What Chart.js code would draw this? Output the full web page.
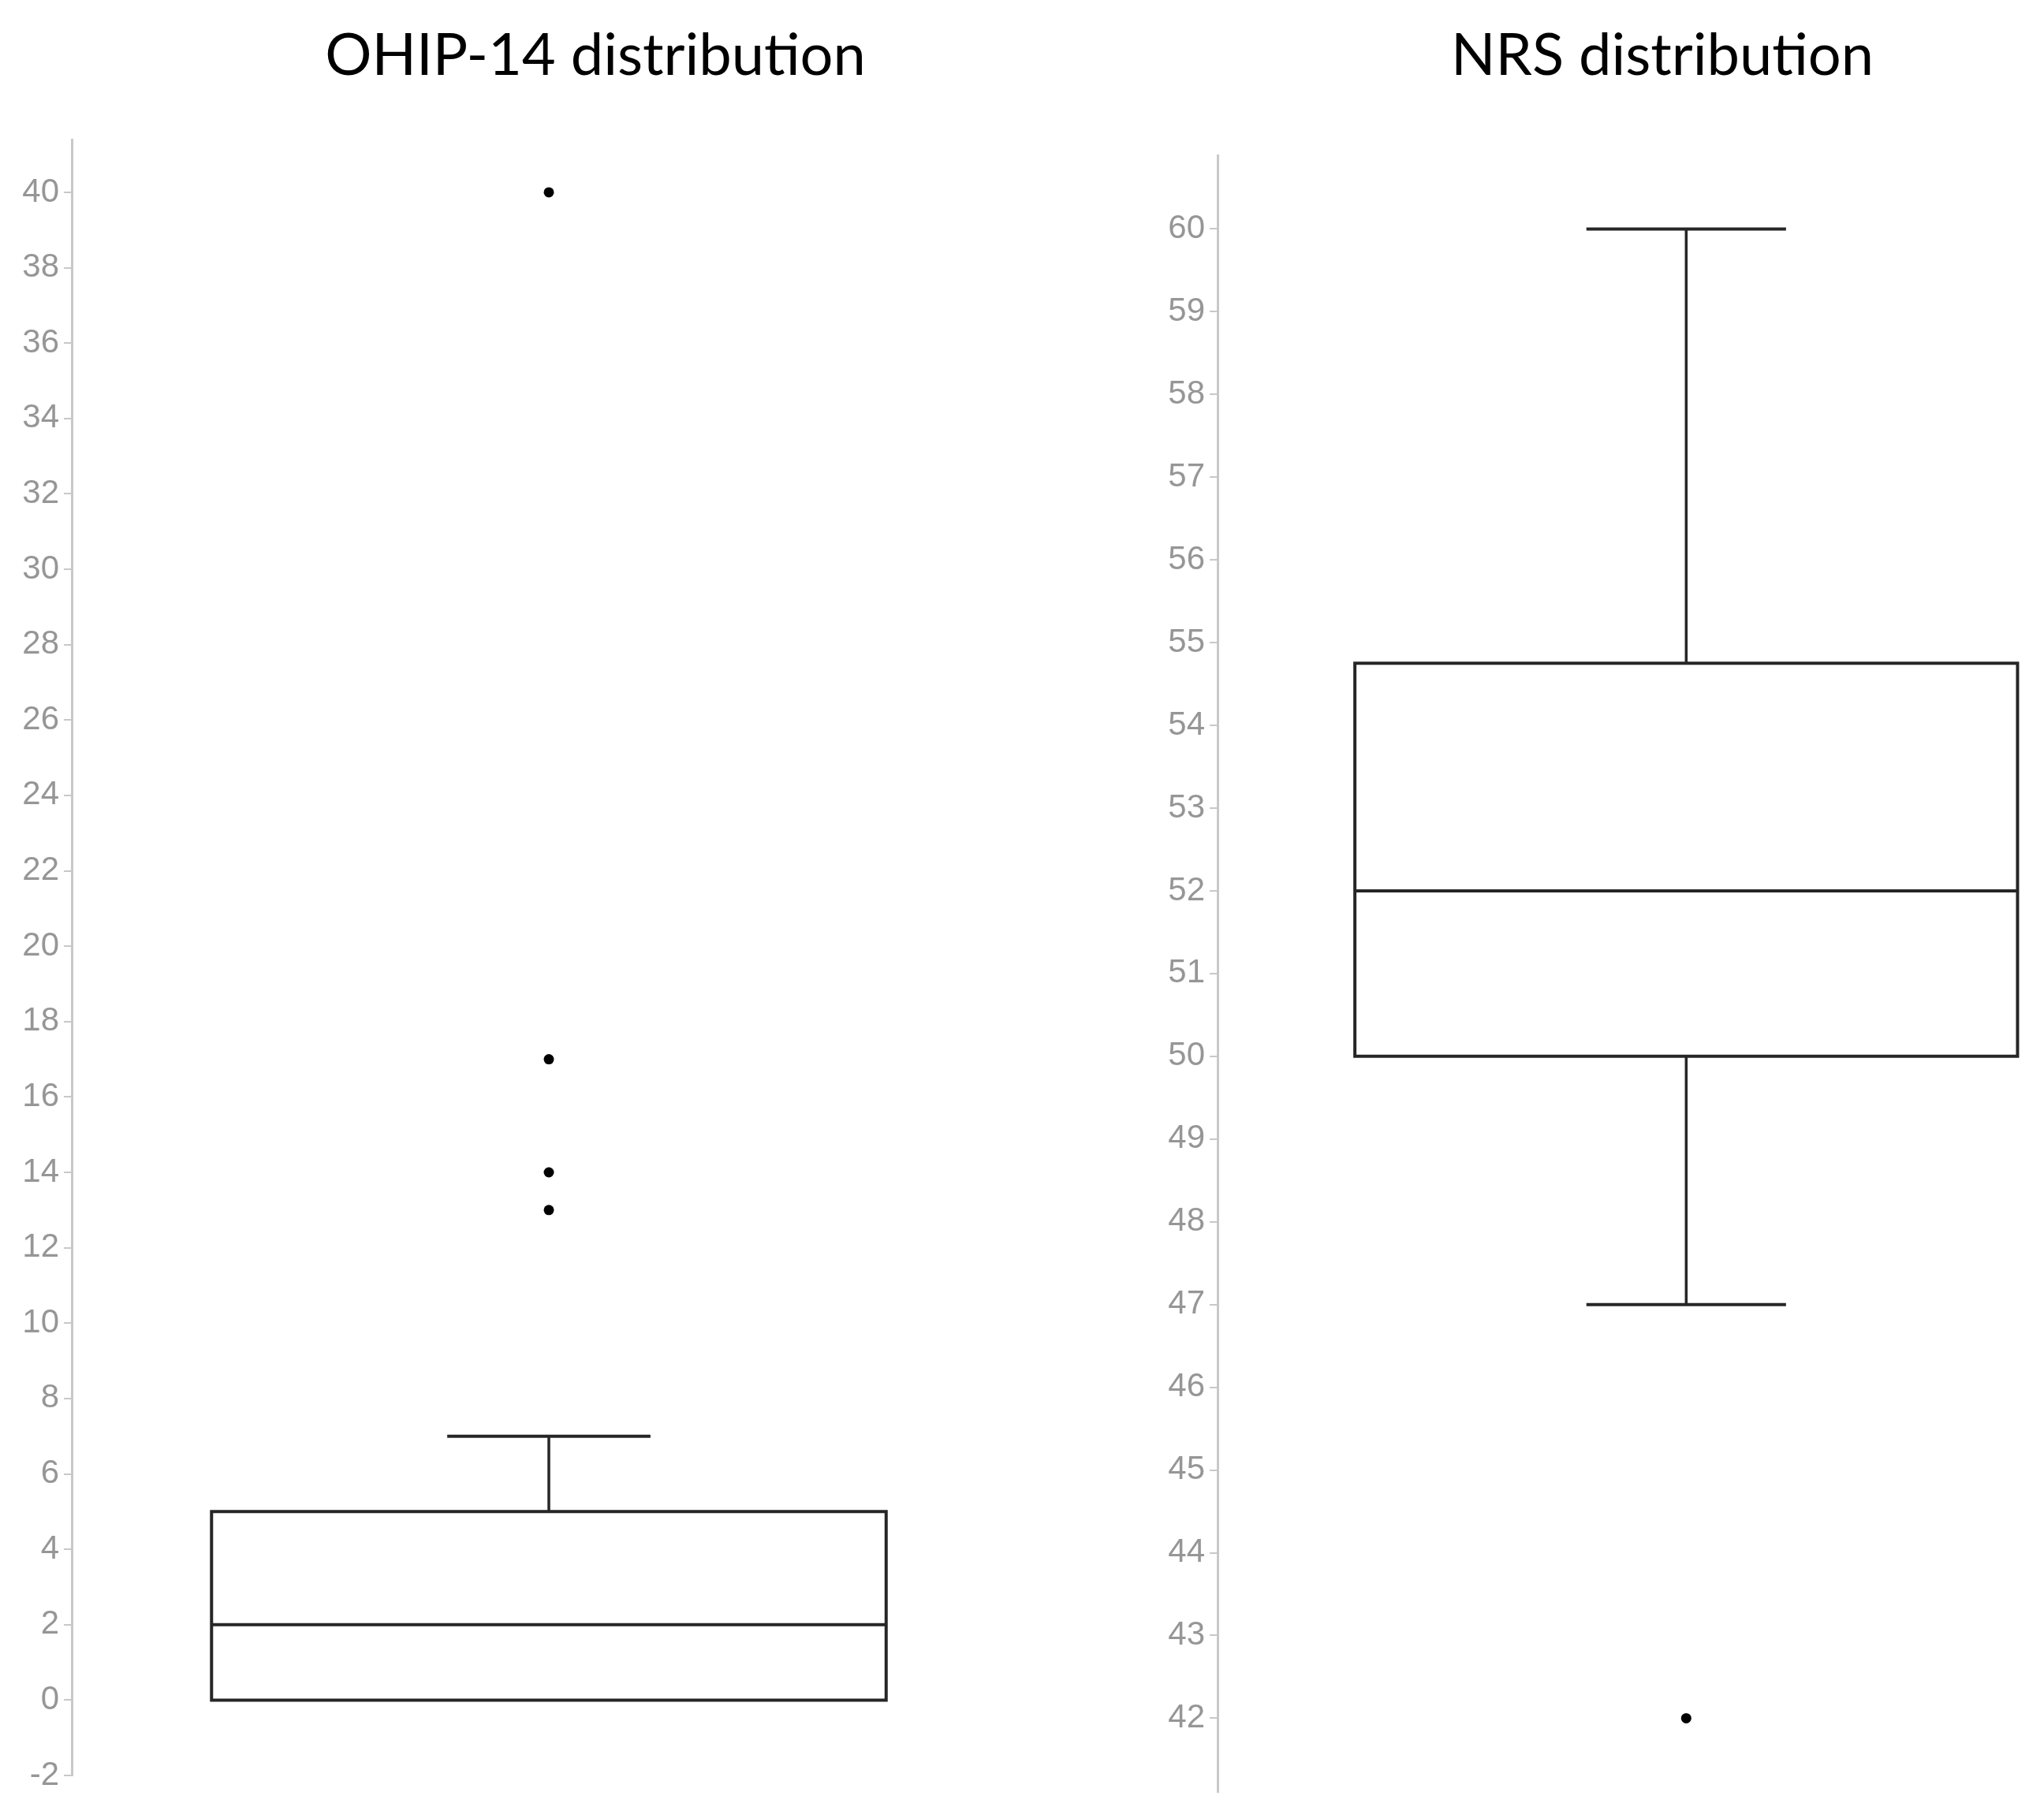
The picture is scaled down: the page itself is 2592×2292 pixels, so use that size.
<!DOCTYPE html>
<html>
<head>
<meta charset="utf-8">
<script src="https://cdn.jsdelivr.net/npm/chart.js@4/dist/chart.umd.min.js"></script>
<style>
  html, body { margin: 0; padding: 0; background: #fff; overflow: hidden; }
  body { width: 2592px; height: 2292px; position: relative; }
  .title {
    position: absolute; top: 30px; transform: translateX(-50%);
    font-family: Lato, "Open Sans", sans-serif; font-size: 74px; line-height: 1;
    color: #000; white-space: nowrap;
  }
  .wrap { position: absolute; top: 0; }
</style>
</head>
<body>
<div class="title" style="left:755px">OHIP-14 distribution</div>
<div class="title" style="left:2108px">NRS distribution</div>
<div class="wrap" style="left:0; width:1310px; height:2292px"><canvas id="ohipChart"></canvas></div>
<div class="wrap" style="left:1400px; width:1192px; height:2304px"><canvas id="nrsChart"></canvas></div>
<script>
// box: [q1, median, q3], whiskers: [low, high]
const ohipBox = [0, 2, 5];
const ohipWhiskers = [0, 7];
const ohipOutliers = [13, 14, 17, 40];

const nrsBox = [50, 52, 54.75];
const nrsWhiskers = [47, 60];
const nrsOutliers = [42];

const BOX_HALF = 0.707;
const CAP_HALF = 0.213;
const INK = "#262626";
const AXIS_GREY = "#c8c8c8";

const seg = (pts, width) => ({
  data: pts,
  showLine: true,
  borderColor: INK,
  borderWidth: width,
  borderJoinStyle: "miter",
  pointRadius: 0,
  fill: false,
});

function boxDatasets(box, whiskers, outliers) {
  const [q1, med, q3] = box;
  const [lo, hi] = whiskers;
  const sets = [
    seg([
      { x: -BOX_HALF, y: q1 }, { x: BOX_HALF, y: q1 },
      { x: BOX_HALF, y: q3 }, { x: -BOX_HALF, y: q3 },
      { x: -BOX_HALF, y: q1 }, { x: BOX_HALF, y: q1 },
    ], 4),
    seg([{ x: -BOX_HALF, y: med }, { x: BOX_HALF, y: med }], 4),
  ];
  if (hi > q3) {
    sets.push(seg([{ x: 0, y: q3 }, { x: 0, y: hi }], 3.5));
    sets.push(seg([{ x: -CAP_HALF, y: hi }, { x: CAP_HALF, y: hi }], 4));
  }
  if (lo < q1) {
    sets.push(seg([{ x: 0, y: q1 }, { x: 0, y: lo }], 3.5));
    sets.push(seg([{ x: -CAP_HALF, y: lo }, { x: CAP_HALF, y: lo }], 4));
  }
  sets.push({
    data: outliers.map((v) => ({ x: 0, y: v })),
    showLine: false,
    pointRadius: 6.5,
    pointHoverRadius: 6.5,
    pointBackgroundColor: "#000",
    pointBorderWidth: 0,
  });
  return sets;
}

function makeChart(id, datasets, yOpts, xMax, axisWidth, padding) {
  return new Chart(document.getElementById(id), {
    type: "scatter",
    data: { datasets },
    options: {
      responsive: true,
      maintainAspectRatio: false,
      animation: false,
      layout: { padding },
      plugins: { legend: { display: false }, tooltip: { enabled: false } },
      scales: {
        x: { type: "linear", display: false, min: -1, max: xMax },
        y: {
          type: "linear",
          min: yOpts.min,
          max: yOpts.max,
          border: { color: AXIS_GREY, width: 3 },
          grid: { drawOnChartArea: false, drawTicks: true, tickLength: 10, color: AXIS_GREY, lineWidth: 2 },
          ticks: {
            stepSize: yOpts.step,
            includeBounds: false,
            color: "#969696",
            padding: 6,
            font: { family: "'Liberation Sans', Arial, sans-serif", size: 42 },
          },
          afterFit: (scale) => { scale.width = axisWidth; },
        },
      },
    },
  });
}

makeChart("ohipChart", boxDatasets(ohipBox, ohipWhiskers, ohipOutliers),
  { min: -2, max: 41.4, step: 2 }, 1, 91, { top: 177, bottom: 40, left: 0, right: 9 });

makeChart("nrsChart", boxDatasets(nrsBox, nrsWhiskers, nrsOutliers),
  { min: 41.11, max: 60.89, step: 1 }, 0.7525, 144, { top: 197, bottom: 20, left: 0, right: 0 });
</script>
</body>
</html>
